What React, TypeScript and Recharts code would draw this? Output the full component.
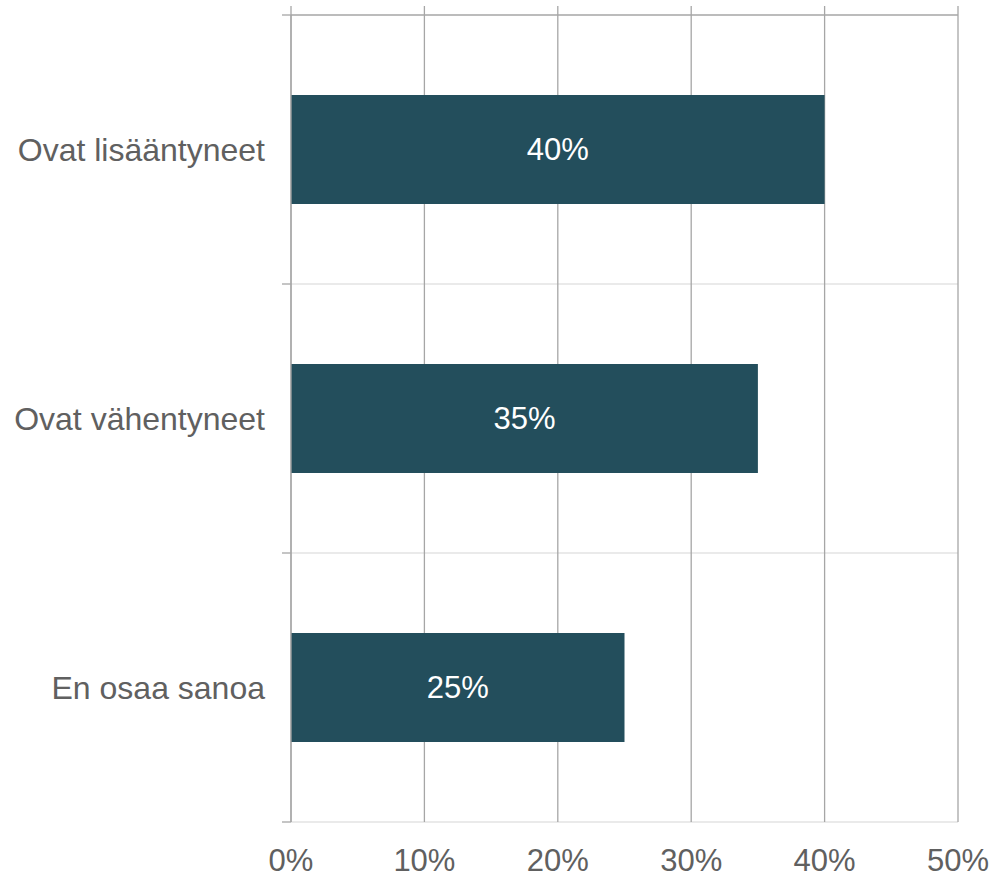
import React from "react";
import {
  BarChart,
  Bar,
  XAxis,
  YAxis,
  CartesianGrid,
  LabelList,
  usePlotArea,
  useXAxisScale,
} from "recharts";

const categories: string[] = ["Ovat lisääntyneet", "Ovat vähentyneet", "En osaa sanoa"];
const values: number[] = [40, 35, 25];
const xTicks: number[] = [0, 10, 20, 30, 40, 50];

const data = categories.map((c, i) => ({ name: c, value: values[i] }));

const FONT = '"Liberation Sans", Arial, sans-serif';
const TEXT = "#606060";
const DARK = "#a6a6a6";
const LIGHT = "#e3e3e3";
const BAR = "#234e5c";
const TICK = 9;

function bandEdges(top: number, height: number): number[] {
  const n = categories.length;
  const out: number[] = [];
  for (let i = 0; i <= n; i++) out.push(top + (i * height) / n);
  return out;
}

function EdgeMarks() {
  const plot: any = usePlotArea();
  const xScale: any = useXAxisScale("bottom");
  if (!plot) return null;
  const edges = bandEdges(plot.y, plot.height);
  const xs = xTicks.map((v) =>
    typeof xScale === "function" ? xScale(v) : plot.x + (v / 50) * plot.width
  );
  return (
    <g>
      {edges.map((y, i) => (
        <line
          key={"yt" + i}
          x1={plot.x - TICK}
          x2={plot.x}
          y1={y}
          y2={y}
          stroke={DARK}
          strokeWidth={1.3}
        />
      ))}
      <line
        x1={plot.x}
        x2={plot.x + plot.width}
        y1={plot.y}
        y2={plot.y}
        stroke={DARK}
        strokeWidth={1.3}
      />
      {xs.map((x, i) => (
        <line
          key={"xt" + i}
          x1={x}
          x2={x}
          y1={plot.y - TICK}
          y2={plot.y}
          stroke={DARK}
          strokeWidth={1.3}
        />
      ))}
    </g>
  );
}

export default function App() {
  return (
    <div style={{ position: "absolute", left: 0, top: 0, width: 995, height: 877, background: "#fff" }}>
      <BarChart
        width={995}
        height={877}
        data={data}
        layout="vertical"
        margin={{ top: 15, right: 37, bottom: 0, left: 0 }}
        barCategoryGap="29.7%"
        style={{ fontFamily: FONT }}
      >
        <CartesianGrid
          xAxisId="bottom"
          yAxisId="cat"
          vertical={false}
          horizontal={true}
          stroke={LIGHT}
          strokeWidth={1.5}
          horizontalCoordinatesGenerator={(args: any) =>
            bandEdges(args.offset.top, args.offset.height).slice(1)
          }
        />
        <CartesianGrid
          xAxisId="bottom"
          yAxisId="cat"
          vertical={true}
          horizontal={false}
          stroke={DARK}
          strokeWidth={1.3}
        />
        <XAxis
          xAxisId="bottom"
          type="number"
          orientation="bottom"
          domain={[0, 50]}
          ticks={xTicks}
          tickFormatter={(v: number) => `${v}%`}
          axisLine={false}
          tickLine={false}
          tickSize={0}
          tickMargin={27}
          height={55}
          tick={{ fill: TEXT, fontSize: 31, fontFamily: FONT }}
          interval={0}
        />
        <YAxis
          yAxisId="cat"
          type="category"
          dataKey="name"
          orientation="left"
          width={291}
          axisLine={{ stroke: DARK, strokeWidth: 1.3 }}
          tickLine={false}
          tickSize={0}
          tickMargin={26}
          tick={{ fill: TEXT, fontSize: 32, fontFamily: FONT }}
          interval={0}
        />
        <Bar
          xAxisId="bottom"
          yAxisId="cat"
          dataKey="value"
          fill={BAR}
          isAnimationActive={false}
        >
          <LabelList
            dataKey="value"
            position="center"
            formatter={(v: number) => `${v}%`}
            fill="#ffffff"
            fontSize={31}
            fontFamily={FONT}
          />
        </Bar>
        <EdgeMarks />
      </BarChart>
    </div>
  );
}
